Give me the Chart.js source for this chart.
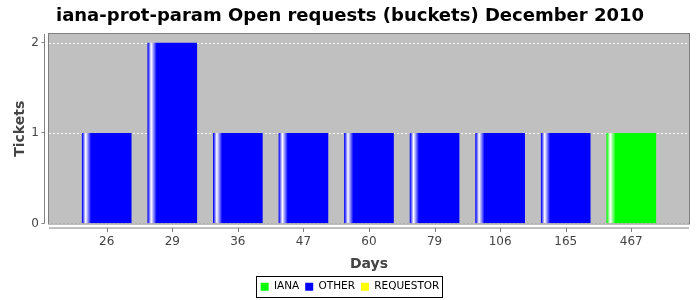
<!DOCTYPE html>
<html><head><meta charset="utf-8">
<script src="https://cdn.jsdelivr.net/npm/chart.js@4/dist/chart.umd.min.js"></script>
<style>html,body{margin:0;padding:0;background:#fff}</style>
</head><body>
<canvas id="c" width="700" height="300" style="display:block;width:700px;height:300px"></canvas>
<script>
const categories = ['26','29','36','47','60','79','106','165','467'];
const ianaValues = [0,0,0,0,0,0,0,0,1];
const otherValues = [1,2,1,1,1,1,1,1,0];
const requestorValues = [0,0,0,0,0,0,0,0,0];
const yTicks = [0,1,2];
const seriesNames = ['IANA','OTHER','REQUESTOR'];
const seriesColors = ['#00FF00','#0000FF','#FFFF00'];

const FAMILY = "'DejaVu Sans', sans-serif";
const BAR_W = 49;

function barGrad(base) {
  return (ctx) => {
    const chart = ctx.chart;
    if (!chart.chartArea || ctx.type !== 'data' || !chart.scales.x) return base;
    const c = chart.scales.x.getPixelForValue(ctx.dataIndex);
    const g = chart.ctx.createLinearGradient(c - BAR_W / 2, 0, c + BAR_W / 2, 0);
    g.addColorStop(0, base);
    g.addColorStop(0.07, '#ffffff');
    g.addColorStop(0.18, base);
    g.addColorStop(1, base);
    return g;
  };
}

function ds(label, values, color) {
  return {
    label, baseColor: color,
    data: values.map((v, i) => ({x: i, y: v === 0 ? null : v})),
    backgroundColor: barGrad(color),
    borderWidth: 0,
    barThickness: BAR_W
  };
}

const frame = {
  id: 'frame',
  beforeDraw(chart) {
    const {ctx, chartArea: a} = chart;
    ctx.save();
    ctx.fillStyle = '#ffffff';
    ctx.fillRect(0, 0, chart.width, chart.height);
    ctx.fillStyle = '#C0C0C0';
    ctx.fillRect(a.left, a.top, a.right - a.left, a.bottom - a.top);
    ctx.restore();
  },
  afterDatasetsDraw(chart) {
    const {ctx, chartArea: a, scales} = chart;
    ctx.save();
    ctx.strokeStyle = '#808080';
    ctx.lineWidth = 1;
    ctx.strokeRect(a.left - 0.5, a.top - 0.5, a.right - a.left + 1, a.bottom - a.top + 1);
    ctx.beginPath();
    const yx = a.left - 4.5;
    ctx.moveTo(yx, a.top); ctx.lineTo(yx, a.bottom);
    scales.y.ticks.forEach(t => {
      const py = Math.round(scales.y.getPixelForValue(t.value)) - 0.5;
      ctx.moveTo(yx - 3, py); ctx.lineTo(yx, py);
    });
    const xy = a.bottom + 4.5;
    ctx.moveTo(a.left, xy); ctx.lineTo(a.right, xy);
    scales.x.ticks.forEach(t => {
      const px = Math.round(scales.x.getPixelForValue(t.value)) + 0.5;
      ctx.moveTo(px, xy); ctx.lineTo(px, xy + 4);
    });
    ctx.stroke();
    ctx.restore();
  },
  afterDraw(chart) {
    const lg = chart.legend;
    if (!lg || !lg.legendHitBoxes || !lg.legendHitBoxes.length) return;
    const hb = lg.legendHitBoxes;
    const first = hb[0], last = hb[hb.length - 1];
    const ctx = chart.ctx;
    ctx.save();
    ctx.strokeStyle = '#000';
    ctx.lineWidth = 1;
    const l = Math.round(first.left) - 4.5;
    const r = Math.round(last.left + last.width) + 3.5;
    const t = Math.round(first.top) - 5.5;
    const b = Math.round(first.top + first.height) + 5.5;
    ctx.strokeRect(l, t, r - l, b - t);
    ctx.restore();
  }
};

new Chart(document.getElementById('c'), {
  type: 'bar',
  data: {
    datasets: [
      ds(seriesNames[0], ianaValues, seriesColors[0]),
      ds(seriesNames[1], otherValues, seriesColors[1]),
      ds(seriesNames[2], requestorValues, seriesColors[2])
    ]
  },
  options: {
    responsive: false,
    animation: false,
    devicePixelRatio: 1,
    layout: {padding: {left: 11, right: 11, top: 0, bottom: -2}},
    plugins: {
      title: {
        display: true,
        text: 'iana-prot-param Open requests (buckets) December 2010',
        font: {family: FAMILY, size: 18, weight: 'bold'},
        color: '#000',
        padding: {top: 6, bottom: 6.4}
      },
      legend: {
        position: 'bottom',
        labels: {
          font: {family: FAMILY, size: 10.5},
          color: '#000',
          boxWidth: 8, boxHeight: 8, padding: 6,
          generateLabels: (chart) => chart.data.datasets.map((d, i) => ({
            text: d.label, fillStyle: d.baseColor, strokeStyle: d.baseColor,
            lineWidth: 0, hidden: false, datasetIndex: i, fontColor: '#000'
          }))
        }
      },
      tooltip: {enabled: false}
    },
    scales: {
      x: {
        type: 'linear', min: -0.88, max: 8.88, stacked: true, offset: false,
        grid: {display: false, drawTicks: false},
        border: {display: false},
        afterBuildTicks: s => { s.ticks = categories.map((_, i) => ({value: i})); },
        ticks: {
          callback: v => categories[v],
          padding: 11, autoSkip: false, maxRotation: 0,
          font: {family: FAMILY, size: 12}, color: '#444'
        },
        title: {
          display: true, text: 'Days',
          font: {family: FAMILY, size: 14, weight: 'bold'}, color: '#444',
          padding: {top: 0, bottom: 3}
        },
        afterFit: s => { s.height = 52; }
      },
      y: {
        stacked: true, min: 0, max: 2.1,
        afterBuildTicks: s => { s.ticks = yTicks.map(v => ({value: v})); },
        grid: {color: 'rgba(255,255,255,0.9)', drawTicks: false, lineWidth: 1},
        border: {display: false, dash: [2, 2]},
        ticks: {padding: 10, font: {family: FAMILY, size: 12}, color: '#444'},
        title: {
          display: true, text: 'Tickets',
          font: {family: FAMILY, size: 14, weight: 'bold'}, color: '#444',
          padding: {top: 1, bottom: 0}
        },
        afterFit: s => { s.width = 38; }
      }
    }
  },
  plugins: [frame]
});
</script>
</body></html>
